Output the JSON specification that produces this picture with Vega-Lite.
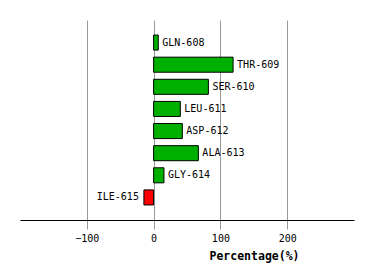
{
  "$schema": "https://vega.github.io/schema/vega-lite/v6.json",
  "width": 334,
  "height": 200,
  "autosize": {"type": "none"},
  "padding": {"left": 20, "top": 20, "right": 20, "bottom": 60},
  "background": "white",
  "config": {"view": {"stroke": null}},
  "data": {"values": [
    {"res": "GLN-608", "pct": 7},
    {"res": "THR-609", "pct": 119},
    {"res": "SER-610", "pct": 82},
    {"res": "LEU-611", "pct": 40},
    {"res": "ASP-612", "pct": 43},
    {"res": "ALA-613", "pct": 67},
    {"res": "GLY-614", "pct": 15.5},
    {"res": "ILE-615", "pct": -14.5}
  ]},
  "encoding": {
    "y": {"field": "res", "type": "nominal", "sort": null, "axis": null,
          "scale": {"paddingInner": 0.32, "paddingOuter": 0.68}},
    "x": {"field": "pct", "type": "quantitative",
          "scale": {"domain": [-200, 300], "nice": false, "zero": false},
          "axis": {"values": [-100, 0, 100, 200], "grid": true, "gridColor": "#999999", "gridWidth": 1, "gridOpacity": 1,
                   "tickColor": "#999999", "tickSize": 9, "labelPadding": 4,
                   "labelFont": "DejaVu Sans Mono", "labelFontSize": 10, "labelColor": "black",
                   "domainColor": "black", "domainWidth": 1,
                   "title": "Percentage(%)", "titleFont": "DejaVu Sans Mono", "titleFontSize": 11.5, "titleFontWeight": "bold",
                   "titleColor": "black", "titleX": 234, "titleY": 39, "titleAlign": "center", "titleBaseline": "alphabetic"}}
  },
  "layer": [
    {"mark": {"type": "bar", "stroke": "black", "strokeWidth": 1},
     "encoding": {
       "x2": {"datum": 0},
       "color": {"condition": {"test": "datum.pct < 0", "value": "#ff0000"}, "value": "#00b000"}
     }},
    {"transform": [{"filter": "datum.pct >= 0"}],
     "mark": {"type": "text", "align": "left", "dx": 4, "font": "DejaVu Sans Mono", "fontSize": 10, "color": "black"},
     "encoding": {"text": {"field": "res"}}},
    {"transform": [{"filter": "datum.pct < 0"}],
     "mark": {"type": "text", "align": "right", "dx": -5, "font": "DejaVu Sans Mono", "fontSize": 10, "color": "black"},
     "encoding": {"text": {"field": "res"}}}
  ]
}
